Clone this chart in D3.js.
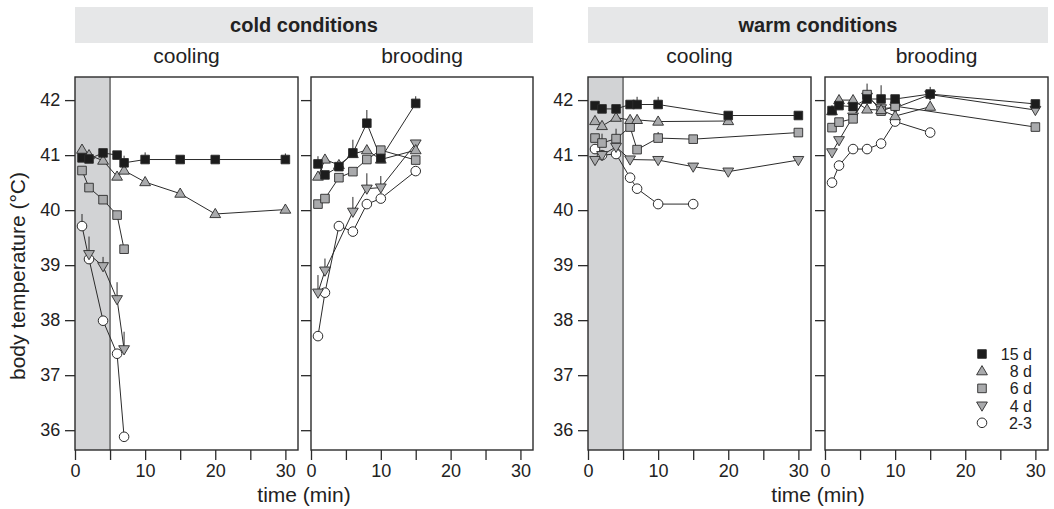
<!DOCTYPE html>
<html>
<head>
<meta charset="utf-8">
<script src="https://cdn.jsdelivr.net/npm/d3@7"></script>
<style>
  html, body { margin: 0; padding: 0; background: #fff; }
  svg { display: block; font-family: "Liberation Sans", Arial, Helvetica, sans-serif; }
</style>
</head>
<body>
<svg id="chart" width="1054" height="509"></svg>
<script>
// ---- data: [time (min), body temperature (°C), optional upper error bound] ----
const ageGroups = ["15 d", "8 d", "6 d", "4 d", "2-3"];
const timeTicks = [0, 5, 10, 15, 20, 25, 30];
const timeLabels = [0, 10, 20, 30];
const tempTicks = [36, 37, 38, 39, 40, 41, 42];

// cold conditions, cooling
const coldCooling15 = [[1, 40.95], [2, 40.93], [4, 41.04], [6, 41.0], [7, 40.86, 40.99], [10, 40.92, 41.05], [15, 40.92], [20, 40.92], [30, 40.92, 41.03]];
const coldCooling8  = [[1, 41.1], [2, 41.0], [4, 40.9], [6, 40.61], [7, 40.72], [10, 40.51], [15, 40.3], [20, 39.93], [30, 40.01]];
const coldCooling6  = [[1, 40.72], [2, 40.41], [4, 40.19], [6, 39.91], [7, 39.29]];
const coldCooling4  = [[2, 39.2, 39.52], [4, 38.98, 39.15], [6, 38.38, 38.69], [7, 37.47, 37.79]];
const coldCooling23 = [[1, 39.71, 39.93], [2, 39.11], [4, 37.99], [6, 37.39], [7, 35.88]];

// cold conditions, brooding
const coldBrooding15 = [[1, 40.84, 40.98], [2, 40.64], [4, 40.79], [6, 41.04, 41.28], [8, 41.58, 41.82], [10, 40.94], [15, 41.94, 42.07]];
const coldBrooding8  = [[1, 40.61], [2, 40.92], [4, 40.82], [6, 41.02], [8, 41.09], [10, 40.92], [15, 41.09]];
const coldBrooding6  = [[1, 40.11], [2, 40.21], [4, 40.59], [6, 40.7], [8, 40.92], [10, 41.09], [15, 40.91]];
const coldBrooding4  = [[1, 38.5, 38.82], [2, 38.9, 39.12], [6, 39.97, 40.24], [8, 40.39, 40.67], [10, 40.41, 40.62], [15, 41.21]];
const coldBrooding23 = [[1, 37.71], [2, 38.5], [4, 39.71], [6, 39.61], [8, 40.11], [10, 40.21], [15, 40.71]];

// warm conditions, cooling
const warmCooling15 = [[1, 41.9], [2, 41.84], [4, 41.84], [6, 41.92], [7, 41.92, 42.06], [10, 41.92, 42.06], [20, 41.72], [30, 41.72]];
const warmCooling8  = [[1, 41.62], [2, 41.53], [4, 41.68], [6, 41.64], [7, 41.64], [10, 41.61], [20, 41.62]];
const warmCooling6  = [[1, 41.31], [2, 41.22, 41.39], [4, 41.3, 41.48], [6, 41.51], [7, 41.1], [10, 41.31, 41.42], [15, 41.29], [30, 41.41]];
const warmCooling4  = [[1, 40.91], [2, 41.0], [4, 41.15], [6, 40.92], [10, 40.91], [15, 40.79], [20, 40.7], [30, 40.91]];
const warmCooling23 = [[1, 41.11], [2, 41.0], [4, 41.02], [6, 40.59], [7, 40.39], [10, 40.11], [15, 40.11]];

// warm conditions, brooding
const warmBrooding15 = [[1, 41.81], [2, 41.9], [4, 41.88], [6, 42.02], [8, 42.02, 42.27], [10, 42.02], [15, 42.11], [30, 41.93]];
const warmBrooding8  = [[1, 41.8], [2, 42.0], [4, 42.0], [6, 41.83], [8, 41.82], [10, 41.71], [15, 41.88]];
const warmBrooding6  = [[1, 41.5], [2, 41.6], [4, 41.66], [6, 42.1], [8, 41.8], [10, 41.89], [30, 41.51]];
const warmBrooding4  = [[1, 41.05], [2, 41.27], [4, 41.7], [6, 42.06, 42.3], [8, 41.85], [10, 41.86], [15, 42.1, 42.24], [30, 41.82]];
const warmBrooding23 = [[1, 40.5], [2, 40.81], [4, 41.11], [6, 41.11], [8, 41.21], [10, 41.61], [15, 41.41]];

// ---- layout ----
const svg = d3.select("#chart");
const plotTop = 77, plotBottom = 450;
const ink = "#2b2b2b";
const markFill = { "15 d": "#1c1c1c", "8 d": "#a9aaac", "6 d": "#a9aaac", "4 d": "#a9aaac", "2-3": "#ffffff" };

const panels = [
  { x0: 75,  x1: 298,  shade: true,  series: [coldCooling23, coldCooling4, coldCooling6, coldCooling8, coldCooling15] },
  { x0: 311, x1: 533,  shade: false, series: [coldBrooding23, coldBrooding4, coldBrooding6, coldBrooding8, coldBrooding15] },
  { x0: 588, x1: 811,  shade: true,  series: [warmCooling23, warmCooling4, warmCooling6, warmCooling8, warmCooling15] },
  { x0: 825, x1: 1048, shade: false, series: [warmBrooding23, warmBrooding4, warmBrooding6, warmBrooding8, warmBrooding15] }
];
const seriesGroups = ["2-3", "4 d", "6 d", "8 d", "15 d"];

const y = d3.scaleLinear().domain([35.64, 42.42]).range([plotBottom, plotTop]);

// symbol shapes, centred at 0,0
function symbolPath(group) {
  if (group === "15 d" || group === "6 d") return "M-4.3,-4.3H4.3V4.3H-4.3Z";
  if (group === "8 d") return "M0,-5.6L5.4,3.6H-5.4Z";
  if (group === "4 d") return "M0,5.6L5.4,-3.6H-5.4Z";
  return null;
}
function drawMark(g, group, cx, cy) {
  if (group === "2-3") {
    g.append("circle").attr("cx", cx).attr("cy", cy).attr("r", 4.8)
      .attr("fill", "#fff").attr("stroke", ink).attr("stroke-width", 1);
  } else {
    g.append("path").attr("d", symbolPath(group))
      .attr("transform", `translate(${cx},${cy})`)
      .attr("fill", markFill[group]).attr("stroke", ink).attr("stroke-width", 0.9);
  }
}

// header bands
const headers = [
  { text: "cold conditions", x0: 75, x1: 533 },
  { text: "warm conditions", x0: 588, x1: 1048 }
];
headers.forEach(h => {
  svg.append("rect").attr("x", h.x0).attr("y", 7).attr("width", h.x1 - h.x0).attr("height", 36).attr("fill", "#e6e7e8");
  svg.append("text").attr("x", (h.x0 + h.x1) / 2).attr("y", 32).attr("text-anchor", "middle")
    .attr("font-size", 20).attr("font-weight", "bold").attr("fill", "#222").text(h.text);
  svg.append("text").attr("x", (h.x0 + h.x1) / 2).attr("y", 502).attr("text-anchor", "middle")
    .attr("font-size", 21).attr("fill", "#222").text("time (min)");
});

const subtitles = ["cooling", "brooding", "cooling", "brooding"];

panels.forEach((p, i) => {
  const x = d3.scaleLinear().domain([0, 31.8]).range([p.x0, p.x1]);
  const g = svg.append("g");

  g.append("rect").attr("x", p.x0).attr("y", plotTop).attr("width", p.x1 - p.x0).attr("height", plotBottom - plotTop).attr("fill", "#fff");
  if (p.shade) {
    g.append("rect").attr("x", x(0)).attr("y", plotTop).attr("width", x(5) - x(0)).attr("height", plotBottom - plotTop)
      .attr("fill", "#d2d3d5");
    g.append("line").attr("x1", x(5)).attr("x2", x(5)).attr("y1", plotTop).attr("y2", plotBottom)
      .attr("stroke", "#444").attr("stroke-width", 1.2);
  }

  svg.append("text").attr("x", (p.x0 + p.x1) / 2).attr("y", 63).attr("text-anchor", "middle")
    .attr("font-size", 21).attr("fill", "#222").text(subtitles[i]);

  // x axis
  const xAxis = d3.axisBottom(x).tickValues(timeTicks).tickSize(10).tickSizeOuter(0)
    .tickFormat(d => timeLabels.includes(d) ? d : "");
  const gx = g.append("g").attr("transform", `translate(0,${plotBottom})`).call(xAxis);
  gx.select(".domain").remove();
  gx.selectAll(".tick line").attr("stroke", ink).attr("stroke-width", 1.3);
  gx.selectAll(".tick text").attr("font-size", 18).attr("fill", "#222").attr("dy", "0.8em")
    .attr("font-family", "Liberation Sans, Arial, sans-serif");

  // y axis (labels only on the first panel of each pair)
  const yAxis = d3.axisLeft(y).tickValues(tempTicks).tickSize(10).tickSizeOuter(0)
    .tickFormat(i % 2 === 0 ? d3.format("d") : () => "");
  const gy = g.append("g").attr("transform", `translate(${p.x0},0)`).call(yAxis);
  gy.select(".domain").remove();
  gy.selectAll(".tick line").attr("stroke", ink).attr("stroke-width", 1.3);
  gy.selectAll(".tick text").attr("font-size", 18).attr("fill", "#222").attr("dx", "-0.1em")
    .attr("font-family", "Liberation Sans, Arial, sans-serif");

  // frame
  g.append("rect").attr("x", p.x0).attr("y", plotTop).attr("width", p.x1 - p.x0).attr("height", plotBottom - plotTop)
    .attr("fill", "none").attr("stroke", ink).attr("stroke-width", 1.4);

  const line = d3.line().x(d => x(d[0])).y(d => y(d[1]));
  const lines = g.append("g"), bars = g.append("g"), marks = g.append("g");
  p.series.forEach((data, k) => {
    const group = seriesGroups[k];
    lines.append("path").datum(data).attr("d", line).attr("fill", "none")
      .attr("stroke", ink).attr("stroke-width", 1);
    data.filter(d => d.length > 2).forEach(d => {
      bars.append("line").attr("x1", x(d[0])).attr("x2", x(d[0]))
        .attr("y1", y(d[1])).attr("y2", y(d[2])).attr("stroke", ink).attr("stroke-width", 1);
    });
    data.forEach(d => drawMark(marks, group, x(d[0]), y(d[1])));
  });
});

// y axis title
svg.append("text").attr("transform", "translate(25,276) rotate(-90)")
  .attr("text-anchor", "middle").attr("font-size", 21).attr("fill", "#222").text("body temperature (°C)");

// legend
const legend = svg.append("g");
ageGroups.forEach((grp, k) => {
  const ly = 354 + k * 17.2;
  drawMark(legend, grp, 982, ly);
  legend.append("text").attr("x", 1032).attr("y", ly + 6).attr("text-anchor", "end")
    .attr("font-size", 16).attr("fill", "#222").text(grp);
});
</script>
</body>
</html>
